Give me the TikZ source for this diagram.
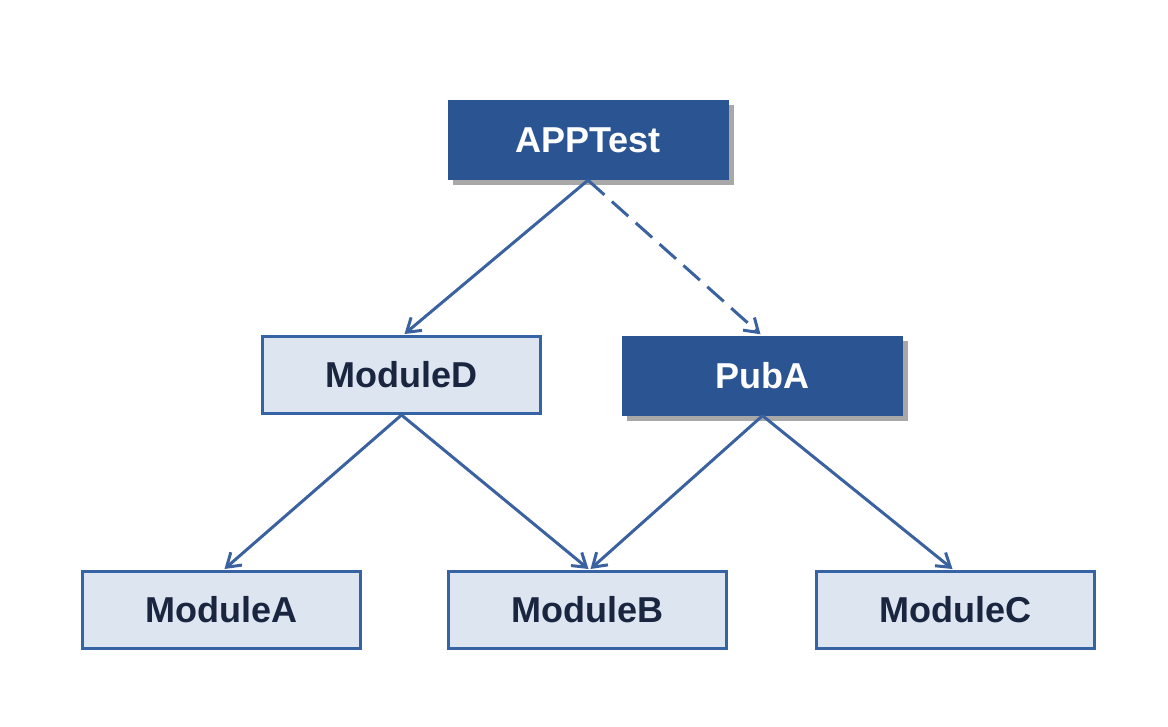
\documentclass[tikz,border=0pt]{standalone}
\usepackage{fontspec}
\setmainfont{Liberation Sans}
\usetikzlibrary{arrows.meta,shadows}
\definecolor{darkbox}{HTML}{2B5592}
\definecolor{lightbox}{HTML}{DDE5F0}
\definecolor{boxline}{HTML}{3563A4}
\definecolor{arrowc}{HTML}{3A62A0}
\definecolor{labeltext}{HTML}{1A2540}
\definecolor{shadowc}{HTML}{A8A8A8}
\tikzset{
  darknode/.style={fill=darkbox, text=white, minimum width=281pt, minimum height=80pt,
    inner sep=0pt, font=\fontsize{36}{42}\selectfont\bfseries,
    drop shadow={shadow xshift=5pt, shadow yshift=-5pt, fill=shadowc, opacity=1}},
  lightnode/.style={fill=lightbox, draw=boxline, line width=3pt, text=labeltext,
    minimum width=278pt, minimum height=77pt, inner sep=0pt,
    font=\fontsize{36}{42}\selectfont\bfseries},
  conn/.style={draw=arrowc, line width=3pt,
    -{Straight Barb[length=13pt, width=17pt]}},
  dashconn/.style={conn, dash pattern=on 22pt off 10pt},
}
\begin{document}
\begin{tikzpicture}[x=1pt, y=-1pt]
\useasboundingbox (0,0) rectangle (1168,726);
\node[darknode] (app) at (588,140) {APPTest};
\node[lightnode] (md) at (401.5,375) {ModuleD};
\node[darknode] (pub) at (762.5,375.5) {PubA};
\node[lightnode] (ma) at (221.5,610) {ModuleA};
\node[lightnode] (mb) at (587.5,610) {ModuleB};
\node[lightnode] (mc) at (955.5,610) {ModuleC};
\draw[conn] (app.south) -- ([xshift=3pt,yshift=1pt]md.north);
\draw[dashconn] (app.south) -- ([xshift=-2pt,yshift=1pt]pub.north);
\draw[conn] (md.south) -- ([xshift=3pt,yshift=1pt]ma.north);
\draw[conn] (md.south) -- ([xshift=1pt,yshift=1pt]mb.north);
\draw[conn] (pub.south) -- ([xshift=3pt,yshift=1pt]mb.north);
\draw[conn] (pub.south) -- ([xshift=-3pt,yshift=1pt]mc.north);
\end{tikzpicture}
\end{document}
